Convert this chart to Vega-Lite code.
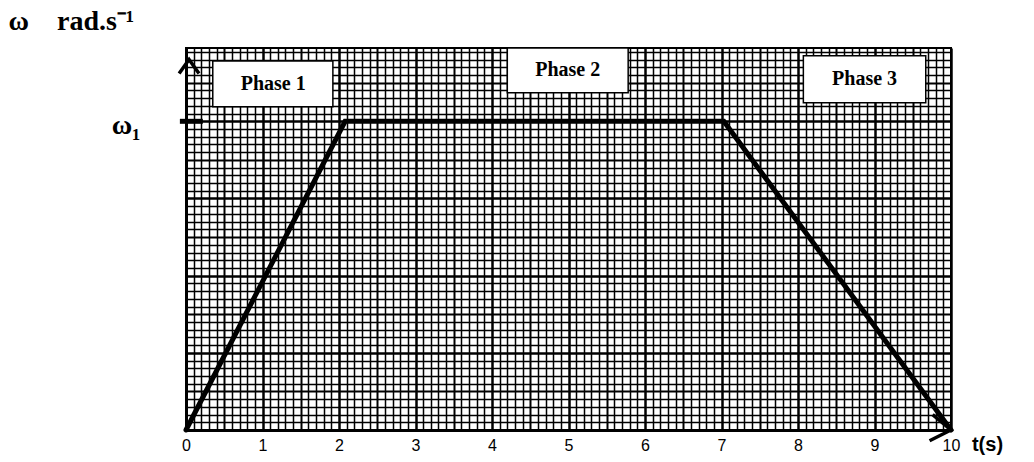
{
  "$schema": "https://vega.github.io/schema/vega-lite/v6.json",
  "width": 765,
  "height": 382,
  "autosize": {"type": "none"},
  "padding": {"left": 186, "top": 48, "right": 83, "bottom": 32},
  "background": "white",
  "config": {"view": {"stroke": "black", "strokeWidth": 2}},
  "datasets": {
    "profile": [
      {"t": 0, "w": 0},
      {"t": 2.08, "w": 4},
      {"t": 7.03, "w": 4},
      {"t": 10, "w": 0}
    ],
    "phases": [
      {"label": "Phase 1", "t": 0.35, "t2": 1.92, "w": 4.78, "w2": 4.19, "tc": 1.14, "wc": 4.485},
      {"label": "Phase 2", "t": 4.2, "t2": 5.78, "w": 4.95, "w2": 4.37, "tc": 4.99, "wc": 4.66},
      {"label": "Phase 3", "t": 8.07, "t2": 9.67, "w": 4.85, "w2": 4.24, "tc": 8.87, "wc": 4.545}
    ],
    "arrows": [
      {"arrow": "y", "k": 0, "t": -0.09, "w": 4.62},
      {"arrow": "y", "k": 1, "t": 0.04, "w": 4.8},
      {"arrow": "y", "k": 2, "t": 0.17, "w": 4.62},
      {"arrow": "x", "k": 0, "t": 9.76, "w": 0.2},
      {"arrow": "x", "k": 1, "t": 10, "w": 0},
      {"arrow": "x", "k": 2, "t": 9.72, "w": -0.14}
    ],
    "w1tick": [{"t": -0.08, "t2": 0.22, "w": 4}]
  },
  "layer": [
    {
      "data": {"name": "profile"},
      "mark": {"type": "line", "color": "black", "strokeWidth": 5, "strokeCap": "round"},
      "encoding": {
        "x": {
          "field": "t", "type": "quantitative",
          "scale": {"domain": [0, 10], "nice": false},
          "axis": {
            "title": "t(s)",
            "tickCount": 100,
            "grid": true,
            "gridColor": "black",
            "gridOpacity": 1,
            "gridWidth": {"condition": [{"test": "datum.value % 1 == 0", "value": 2.5}, {"test": "datum.value % 0.5 == 0", "value": 2}], "value": 1.5},
            "ticks": false,
            "domain": true,
            "domainColor": "black",
            "domainWidth": 3,
            "labelExpr": "datum.value % 1 == 0 ? format(datum.value, 'd') : ''",
            "labelFont": "Liberation Sans",
            "labelFontSize": 16,
            "labelColor": "black",
            "labelPadding": 7,
            "labelOverlap": false,
            "labelFlush": false,
            "labelBound": false,
            "titleFont": "Liberation Sans",
            "titleFontWeight": "bold",
            "titleFontSize": 20,
            "titleColor": "black",
            "titleX": 801,
            "titleY": 14,
            "titleAlign": "center",
            "titleBaseline": "middle"
          }
        },
        "y": {
          "field": "w", "type": "quantitative",
          "scale": {"domain": [0, 4.95], "nice": false},
          "axis": {
            "title": "ω\u00a0\u00a0\u00a0\u00a0rad.s⁻¹",
            "tickCount": 50,
            "grid": true,
            "gridColor": "black",
            "gridOpacity": 1,
            "gridWidth": {"condition": [{"test": "datum.value % 1 == 0", "value": 2.5}, {"test": "datum.value % 0.5 == 0", "value": 2}], "value": 1.5},
            "ticks": false,
            "domain": true,
            "domainColor": "black",
            "domainWidth": 3,
            "labelExpr": "datum.value == 4 ? 'ω₁' : ''",
            "labelFont": "Liberation Serif",
            "labelFontWeight": "bold",
            "labelFontSize": 28,
            "labelColor": "black",
            "labelPadding": 46,
            "labelOffset": 4,
            "labelOverlap": false,
            "labelFlush": false,
            "labelBound": false,
            "titleAngle": 0,
            "titleX": -178,
            "titleY": -19,
            "titleAlign": "left",
            "titleBaseline": "alphabetic",
            "titleFont": "Liberation Serif",
            "titleFontWeight": "bold",
            "titleFontSize": 28,
            "titleColor": "black"
          }
        }
      }
    },
    {
      "data": {"name": "phases"},
      "mark": {"type": "rect", "fill": "white", "stroke": "black", "strokeWidth": 1.5},
      "encoding": {
        "x": {"field": "t", "type": "quantitative"},
        "x2": {"field": "t2"},
        "y": {"field": "w", "type": "quantitative"},
        "y2": {"field": "w2"}
      }
    },
    {
      "data": {"name": "phases"},
      "mark": {"type": "text", "font": "Liberation Serif", "fontWeight": "bold", "fontSize": 20, "color": "black", "align": "center", "baseline": "middle"},
      "encoding": {
        "x": {"field": "tc", "type": "quantitative"},
        "y": {"field": "wc", "type": "quantitative"},
        "text": {"field": "label"}
      }
    },
    {
      "data": {"name": "arrows"},
      "mark": {"type": "line", "color": "black", "strokeWidth": 3.5, "clip": false},
      "encoding": {
        "x": {"field": "t", "type": "quantitative"},
        "y": {"field": "w", "type": "quantitative"},
        "detail": {"field": "arrow"},
        "order": {"field": "k"}
      }
    },
    {
      "data": {"name": "w1tick"},
      "mark": {"type": "rule", "color": "black", "strokeWidth": 5},
      "encoding": {
        "x": {"field": "t", "type": "quantitative"},
        "x2": {"field": "t2"},
        "y": {"field": "w", "type": "quantitative"}
      }
    }
  ]
}
